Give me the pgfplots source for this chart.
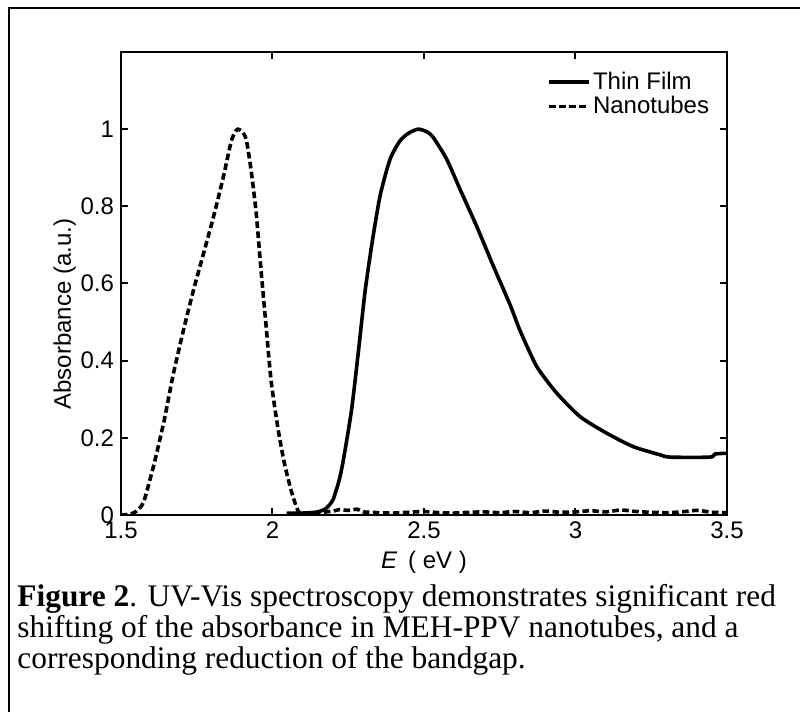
\documentclass[border=0pt]{standalone}
\usepackage{fontspec}
\setmainfont{Liberation Sans}
\newfontfamily\capfont{Liberation Serif}
\usepackage{pgfplots}
\pgfplotsset{compat=1.18}

\pgfplotstableread{
E A
1.500 0.000
1.530 0.002
1.543 0.006
1.560 0.016
1.577 0.039
1.610 0.135
1.643 0.247
1.671 0.359
1.704 0.472
1.737 0.576
1.770 0.671
1.803 0.766
1.836 0.870
1.863 0.966
1.875 0.990
1.885 1.000
1.898 0.995
1.913 0.974
1.929 0.896
1.946 0.784
1.962 0.636
1.979 0.489
1.995 0.351
2.017 0.229
2.039 0.135
2.061 0.065
2.075 0.030
2.083 0.013
2.090 0.005
2.100 0.004
2.150 0.006
2.200 0.010
2.220 0.014
2.250 0.012
2.280 0.015
2.300 0.008
2.350 0.006
2.400 0.005
2.450 0.007
2.500 0.009
2.550 0.006
2.600 0.005
2.650 0.007
2.700 0.008
2.750 0.006
2.800 0.009
2.850 0.006
2.900 0.010
2.950 0.007
3.000 0.008
3.050 0.011
3.100 0.008
3.150 0.013
3.200 0.009
3.250 0.007
3.300 0.006
3.350 0.008
3.400 0.012
3.450 0.007
3.500 0.006
}\nanotubes

\pgfplotstableread{
E A
2.047 0.005
2.100 0.005
2.150 0.008
2.175 0.016
2.190 0.028
2.201 0.042
2.220 0.090
2.234 0.143
2.261 0.273
2.283 0.420
2.305 0.576
2.327 0.697
2.355 0.827
2.388 0.922
2.421 0.970
2.450 0.990
2.481 1.000
2.510 0.993
2.531 0.978
2.575 0.922
2.619 0.844
2.674 0.748
2.729 0.645
2.784 0.545
2.817 0.478
2.872 0.385
2.938 0.316
3.015 0.255
3.103 0.212
3.191 0.177
3.279 0.156
3.312 0.150
3.444 0.150
3.460 0.158
3.500 0.160
}\thinfilm

\begin{document}
\begin{tikzpicture}
\useasboundingbox (0,0) rectangle (400pt,356pt);
\draw[line width=1pt] (4.5pt,0) -- (4.5pt,352pt) -- (400pt,352pt);

\begin{axis}[
    at={(60.5pt,98.5pt)}, anchor=south west,
    scale only axis, width=303pt, height=231.5pt,
    xmin=1.5, xmax=3.5, ymin=0, ymax=1.2,
    xtick={1.5,2,2.5,3,3.5},
    ytick={0,0.2,0.4,0.6,0.8,1},
    tick align=inside, major tick length=3.5pt,
    axis line style={line width=1pt},
    tick style={line width=1pt, black},
    font=\fontsize{12}{14}\selectfont,
    /pgf/number format/assume math mode=true,
    xlabel={\textit{E}\, ( eV )},
    ylabel={Absorbance (a.u.)},
    xlabel style={at={(axis description cs:0.5,-0.103)}, anchor=center},
    ylabel style={at={(axis description cs:-0.093,0.434)}, anchor=center},
    legend style={draw=none, fill=none, inner sep=0pt,
        at={(axis description cs:0.703,0.962)}, anchor=north west,
        nodes={inner sep=1pt}, font=\fontsize{12}{14}\selectfont},
    legend cell align=left,
    legend image code/.code={\draw[#1] (0pt,0pt) -- (20pt,0pt);},
]
\addplot[black, line width=1.8pt, smooth, tension=0.4] table[x=E, y=A] {\thinfilm};
\addlegendentry{Thin Film}
\addplot[black, line width=1.8pt, dash pattern=on 3.3pt off 1.7pt, smooth, tension=0.4] table[x=E, y=A] {\nanotubes};
\addlegendentry{Nanotubes}
\end{axis}

\begin{scope}[every node/.style={anchor=base west, inner sep=0pt,
    font=\capfont\fontsize{15.7}{17}\selectfont}]
\node at (8.5pt,52.5pt) {\textbf{Figure 2}. UV-Vis spectroscopy demonstrates significant red};
\node at (8.5pt,37pt) {shifting of the absorbance in MEH-PPV nanotubes, and a};
\node at (8.5pt,21.5pt) {corresponding reduction of the bandgap.};
\end{scope}
\end{tikzpicture}
\end{document}
